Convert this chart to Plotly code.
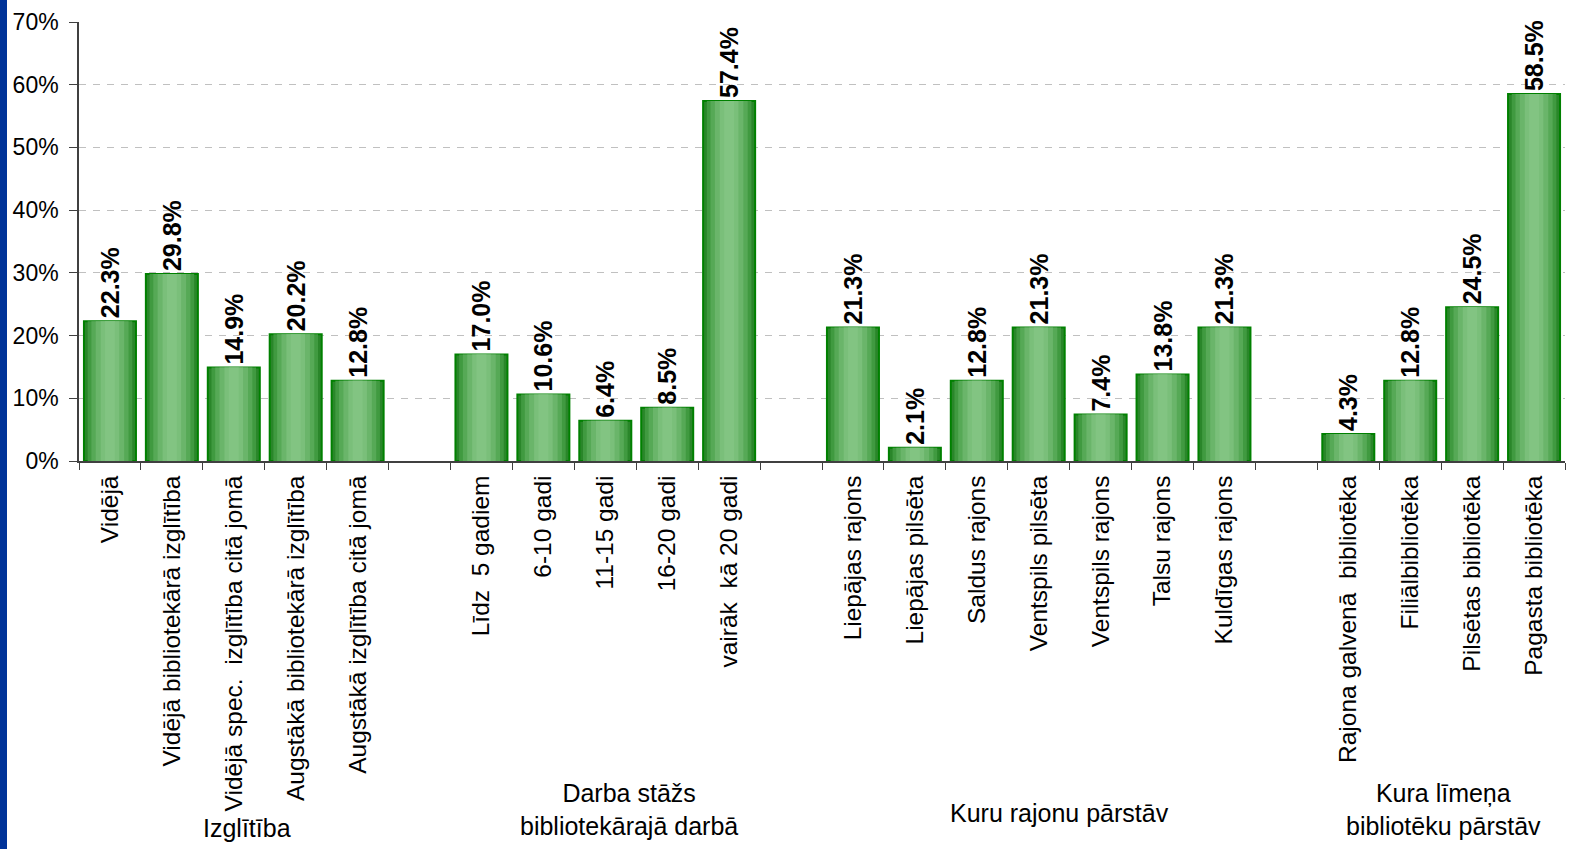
import plotly.graph_objects as go

# ---- data ----
group_names = ["Izglītība", "Darba stāžs<br>bibliotekārajā darbā", "Kuru rajonu pārstāv", "Kura līmeņa<br>bibliotēku pārstāv"]
cats_izglitiba = ["Vidējā", "Vidējā bibliotekārā izglītība", "Vidējā spec.  izglītība citā jomā",
                  "Augstākā bibliotekārā izglītība", "Augstākā izglītība citā jomā"]
vals_izglitiba = [22.3, 29.8, 14.9, 20.2, 12.8]
cats_stazs = ["Līdz  5 gadiem", "6-10 gadi", "11-15 gadi", "16-20 gadi", "vairāk  kā 20 gadi"]
vals_stazs = [17.0, 10.6, 6.4, 8.5, 57.4]
cats_rajons = ["Liepājas rajons", "Liepājas pilsēta", "Saldus rajons", "Ventspils pilsēta",
               "Ventspils rajons", "Talsu rajons", "Kuldīgas rajons"]
vals_rajons = [21.3, 2.1, 12.8, 21.3, 7.4, 13.8, 21.3]
cats_limenis = ["Rajona galvenā  bibliotēka", "Filiālbibliotēka", "Pilsētas bibliotēka", "Pagasta bibliotēka"]
vals_limenis = [4.3, 12.8, 24.5, 58.5]
y_ticks = [0, 10, 20, 30, 40, 50, 60, 70]

groups = [(cats_izglitiba, vals_izglitiba), (cats_stazs, vals_stazs),
          (cats_rajons, vals_rajons), (cats_limenis, vals_limenis)]

# build category axis with empty spacer slots between groups
x_all, y_all, group_centers = [], [], []
for gi, (c, v) in enumerate(groups):
    start = len(x_all)
    x_all += c
    y_all += v
    group_centers.append((start + len(x_all) - 1) / 2)
    if gi < len(groups) - 1:
        x_all.append(" " * (gi + 1))
        y_all.append(None)

FONT = "Liberation Sans, Arial, sans-serif"
W, H = 1585, 849
ML, MR, MT, MB = 79, 20, 22, 388
fig = go.Figure()

# layered bars to imitate the cylinder-like gradient
layers = [(0.84, "#2a862a"), (0.72, "#409a40"), (0.60, "#56a956"), (0.46, "#6ab56a"), (0.30, "#7abf7a"), (0.16, "#82c482")]
for i, (w, col) in enumerate(layers):
    fig.add_trace(go.Bar(
        x=x_all, y=y_all, width=w,
        marker=dict(color=col, line=dict(color="#008000", width=2 if i == 0 else 0)),
        text=[None if v is None else f"{v:.1f}%" for v in y_all] if i == 0 else None,
        textposition="outside" if i == 0 else "none",
        textangle=-90, constraintext="none",
        textfont=dict(family=FONT, size=25, color="black", weight="bold"),
        cliponaxis=False,
        hoverinfo="skip" if i else None,
        showlegend=False,
    ))

fig.update_layout(
    width=W, height=H,
    margin=dict(l=ML, r=MR, t=MT, b=MB),
    paper_bgcolor="white", plot_bgcolor="white",
    barmode="overlay",
    font=dict(family=FONT, size=22, color="black"),
    showlegend=False,
)
fig.update_xaxes(
    type="category", categoryorder="array", categoryarray=x_all,
    range=[-0.5, len(x_all) - 0.5], automargin=False,
    tickson="boundaries", ticks="outside", ticklen=7, tickcolor="#404040",
    showline=True, linecolor="#404040", linewidth=1.5,
    tickangle=-90, tickfont=dict(size=24.5, family=FONT), ticklabelstandoff=3,
    showgrid=False,
)
fig.update_yaxes(
    range=[0, 70], tickvals=y_ticks, ticktext=[f"{t}%" for t in y_ticks],
    automargin=False,
    ticks="outside", ticklen=8, tickcolor="#404040",
    showline=True, linecolor="#404040", linewidth=1.5,
    showgrid=True, gridcolor="#c0c0c0", gridwidth=1.2, griddash="7px,7px",
    tickfont=dict(size=23, family=FONT), ticklabelstandoff=6, zeroline=False,
)

# group labels under the category labels
offsets = [0.21, 0.38, 0.34, 0.03]
ys = [-0.835, -0.793, -0.802, -0.793]
for name, cx, off, yy in zip(group_names, group_centers, offsets, ys):
    fig.add_annotation(x=cx + off, xref="x", y=yy, yref="paper", text=name,
                       showarrow=False, xanchor="center", yanchor="middle",
                       font=dict(size=25, family=FONT, color="black"))

# blue strip on the left edge
pw, ph = W - ML - MR, H - MT - MB
fig.add_shape(type="rect", xref="paper", yref="paper",
              x0=-ML / pw, x1=(-ML + 7) / pw, y0=-MB / ph, y1=1 + MT / ph,
              fillcolor="#003399", line=dict(width=0), layer="above")

css = ("var s=document.createElement('style');"
       "s.textContent='html,body{margin:0;padding:0;overflow:hidden;width:1585px;height:849px;}"
       "body>div{line-height:0;height:849px;}';"
       "document.head.appendChild(s);")
fig.write_html("out.html", config={"displayModeBar": False}, post_script=css)
